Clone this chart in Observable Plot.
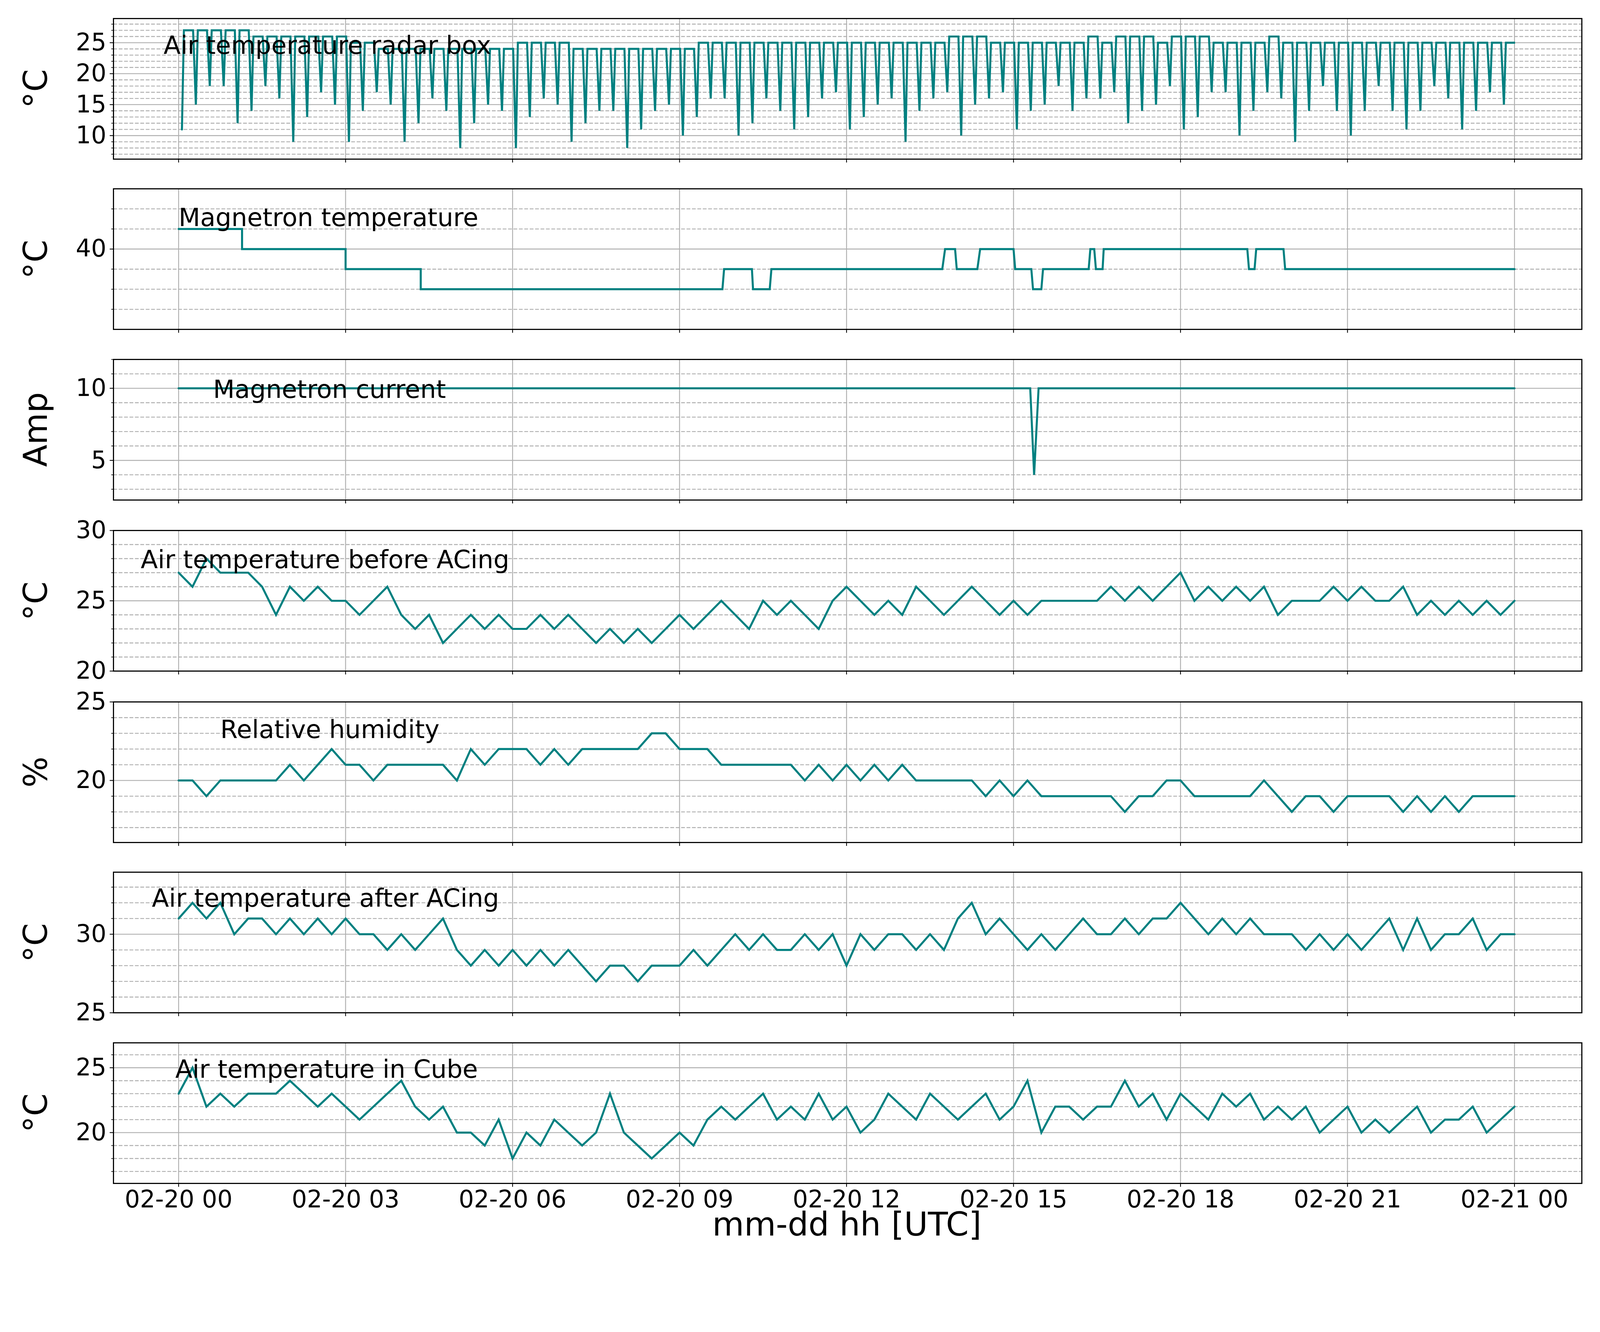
<!DOCTYPE html>
<html><head><meta charset="utf-8">
<script src="https://cdn.jsdelivr.net/npm/d3@7"></script>
<script src="https://cdn.jsdelivr.net/npm/@observablehq/plot@0.6"></script>
<style>
html,body{margin:0;background:#fff;overflow:hidden}
body{position:relative;font-family:"DejaVu Sans",sans-serif}
.pl{position:absolute;left:0}
.yl{position:absolute;transform:translate(-50%,-50%) rotate(-90deg);white-space:nowrap}
</style></head><body>
<script>
// ---- data ----
const xTicks = [0,3,6,9,12,15,18,21,24];
const xTickLabels = ["02-20 00","02-20 03","02-20 06","02-20 09","02-20 12","02-20 15","02-20 18","02-20 21","02-21 00"];

// Air temperature radar box: one cycle every 15 min, dip then plateau
const radarDips = [11,15,18,18,12,14,18,16,9,13,17,15,9,14,17,15,9,12,16,14,8,12,15,14,8,13,16,15,9,12,14,14,8,11,14,15,10,13,16,16,10,12,16,14,11,13,16,17,
  11,13,15,16,9,14,16,17,10,15,16,17,11,14,15,18,14,16,16,17,12,14,15,18,11,13,17,17,10,14,17,16,9,14,18,14,10,14,18,14,11,14,18,16,11,14,17,15];
const radarPeaks = [27,27,27,27,27,26,26,26,26,26,26,26,25,25,24,24,24,24,24,24,24,24,24,24,25,25,25,25,24,24,24,24,24,24,24,24,24,
  25,25,25,25,25,25,25,25,25,25,25,25,25,25,25,25,25,25,26,26,26,25,25,25,25,25,25,25,26,25,26,26,26,25,26,26,26,25,25,25,25,26,25,25,25,25,25,25,25,25,25,25,25,25,25,25,25,25,25];

const magTempTimes = [0,1.14,1.14,3.0,3.0,4.35,4.35,9.77,9.8,10.3,10.32,10.62,10.65,13.72,13.77,13.95,13.98,14.35,14.4,15.0,15.03,15.32,15.35,15.5,15.53,16.35,16.38,16.45,16.48,16.6,16.62,19.2,19.23,19.33,19.36,19.85,19.88,24];
const magTempValues = [42,42,40,40,38,38,36,36,38,38,36,36,38,38,40,40,38,38,40,40,38,38,36,36,38,38,40,40,38,38,40,40,38,38,40,40,38,38];

const magCurTimes = [0,15.3,15.37,15.45,24];
const magCurValues = [10,10,4,10,10];

// quarter-hourly series (97 values, 00:00 .. 24:00)
const beforeAC = [27,26,28,27, 27,27,26,24, 26,25,26,25, 25,24,25,26, 24,23,24,22, 23,24,23,24, 23,23,24,23, 24,23,22,23,
  22,23,22,23, 24,23,24,25, 24,23,25,24, 25,24,23,25, 26,25,24,25, 24,26,25,24, 25,26,25,24, 25,24,25,25,
  25,25,25,26, 25,26,25,26, 27,25,26,25, 26,25,26,24, 25,25,25,26, 25,26,25,25, 26,24,25,24, 25,24,25,24, 25];
const humidity = [20,20,19,20, 20,20,20,20, 21,20,21,22, 21,21,20,21, 21,21,21,21, 20,22,21,22, 22,22,21,22, 21,22,22,22,
  22,22,23,23, 22,22,22,21, 21,21,21,21, 21,20,21,20, 21,20,21,20, 21,20,20,20, 20,20,19,20, 19,20,19,19,
  19,19,19,19, 18,19,19,20, 20,19,19,19, 19,19,20,19, 18,19,19,18, 19,19,19,19, 18,19,18,19, 18,19,19,19, 19];
const afterAC = [31,32,31,32, 30,31,31,30, 31,30,31,30, 31,30,30,29, 30,29,30,31, 29,28,29,28, 29,28,29,28, 29,28,27,28,
  28,27,28,28, 28,29,28,29, 30,29,30,29, 29,30,29,30, 28,30,29,30, 30,29,30,29, 31,32,30,31, 30,29,30,29,
  30,31,30,30, 31,30,31,31, 32,31,30,31, 30,31,30,30, 30,29,30,29, 30,29,30,31, 29,31,29,30, 30,31,29,30, 30];
const cube = [23,25,22,23, 22,23,23,23, 24,23,22,23, 22,21,22,23, 24,22,21,22, 20,20,19,21, 18,20,19,21, 20,19,20,23,
  20,19,18,19, 20,19,21,22, 21,22,23,21, 22,21,23,21, 22,20,21,23, 22,21,23,22, 21,22,23,21, 22,24,20,22,
  22,21,22,22, 24,22,23,21, 23,22,21,23, 22,23,21,22, 21,22,20,21, 22,20,21,20, 21,22,20,21, 21,22,20,21, 22];

// ---- build tables ----
const radarRows = [];
radarDips.forEach((d,k)=>{ const t=0.06+0.25*k; radarRows.push({x:t,y:d},{x:t+0.035,y:radarPeaks[k]},{x:t+0.2,y:radarPeaks[k]}); });
radarRows.push({x:24,y:25});
const pairs = (ts,vs)=>ts.map((t,i)=>({x:t,y:vs[i]}));
const quarter = vs=>vs.map((v,i)=>({x:i*0.25,y:v}));

const W = document.documentElement.clientWidth || 4227;
const s = W/1568;
document.body.style.width = W+"px";
document.body.style.height = Math.round(1268*s)+"px";
const tickFont = 23.5*s, noteFont = 24.5*s, labFont = 32*s;

const panels = [
  {rows:radarRows, domain:[6.2,28.9], majors:[10,15,20,25], minors:d3.range(7,29).filter(v=>v%5), label:"°C", text:"Air temperature radar box", tx:-0.27, ty:24.5, top:18},
  {rows:pairs(magTempTimes,magTempValues), domain:[32,46], majors:[40], minors:[34,36,38,42,44], label:"°C", text:"Magnetron temperature", tx:0, ty:43.1, top:185},
  {rows:pairs(magCurTimes,magCurValues), domain:[2.25,12], majors:[5,10], minors:[3,4,6,7,8,9,11,12], label:"Amp", text:"Magnetron current", tx:0.62, ty:9.9, top:352},
  {rows:quarter(beforeAC), domain:[20,30], majors:[20,25,30], minors:[21,22,23,24,26,27,28,29], label:"°C", text:"Air temperature before ACing", tx:-0.68, ty:27.9, top:520},
  {rows:quarter(humidity), domain:[16.05,25], majors:[20,25], minors:[17,18,19,21,22,23,24], label:"%", text:"Relative humidity", tx:0.75, ty:23.2, top:688},
  {rows:quarter(afterAC), domain:[25,33.95], majors:[25,30], minors:[26,27,28,29,31,32,33], label:"°C", text:"Air temperature after ACing", tx:-0.48, ty:32.25, top:855},
  {rows:quarter(cube), domain:[16.08,26.92], majors:[20,25], minors:[17,18,19,21,22,23,24,26], label:"°C", text:"Air temperature in Cube", tx:-0.06, ty:24.85, top:1022},
];

const mt = Math.round(40*s), mb = Math.round(60*s);
panels.forEach((p,idx)=>{
  const last = idx===panels.length-1;
  const chart = Plot.plot({
    width:W, height: Math.round(138*s)+mt+mb,
    marginLeft:Math.round(111*s), marginRight:Math.round(18*s), marginTop:mt, marginBottom:mb,
    style:{fontFamily:"DejaVu Sans", fontSize:tickFont+"px", background:"transparent", color:"black", overflow:"visible"},
    x:{domain:[-1.17,25.21], label:null},
    y:{domain:p.domain, label:null},
    marks:[
      Plot.gridX(xTicks,{stroke:"#b0b0b0",strokeOpacity:1,strokeWidth:0.9*s}),
      Plot.gridY(p.minors,{stroke:"#b0b0b0",strokeOpacity:1,strokeWidth:0.9*s,strokeDasharray:`${3.7*s},${1.6*s}`}),
      Plot.gridY(p.majors,{stroke:"#b0b0b0",strokeOpacity:1,strokeWidth:0.9*s}),
      Plot.axisX(xTicks,{tickSize:3.5*s,tickPadding:3.5*s,strokeWidth:0.8*s,fontSize:tickFont,tickFormat:(d,i)=> last? xTickLabels[i] : "", label:null}),
      Plot.axisY(p.majors,{tickSize:3.5*s,tickPadding:3.5*s,strokeWidth:0.8*s,fontSize:tickFont,label:null}),
      Plot.axisY(p.minors,{tickSize:2*s,strokeWidth:0.6*s,tickFormat:()=>"",label:null}),
      Plot.line(p.rows,{x:"x",y:"y",stroke:"#008080",strokeWidth:2*s,strokeLinejoin:"miter",strokeMiterlimit:4}),
      Plot.text([{x:p.tx,y:p.ty,t:p.text}],{x:"x",y:"y",text:"t",textAnchor:"start",lineAnchor:"middle",fontSize:noteFont,fill:"black"}),
      Plot.frame({stroke:"black",strokeWidth:1.1*s})
    ]
  });
  chart.classList.add("pl");
  chart.style.top = (Math.round(p.top*s)-mt)+"px";
  document.body.appendChild(chart);
  const yl = document.createElement("div");
  yl.className="yl"; yl.textContent=p.label;
  yl.style.fontSize = labFont+"px";
  yl.style.left=Math.round(35*s)+"px"; yl.style.top=Math.round((p.top+69)*s)+"px";
  document.body.appendChild(yl);
});
const xl = document.createElement("div");
xl.textContent="mm-dd hh [UTC]";
xl.style.cssText=`position:absolute;left:${Math.round(830*s)}px;top:${Math.round(1200*s)}px;transform:translate(-50%,-50%);font-size:${labFont}px;white-space:nowrap`;
document.body.appendChild(xl);
</script>
</body></html>
